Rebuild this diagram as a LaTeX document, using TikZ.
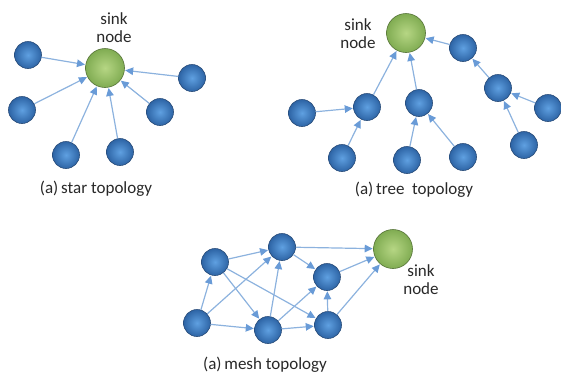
\documentclass[tikz,border=0pt]{standalone}
\usepackage{fontspec}
\setmainfont{Carlito}
\usetikzlibrary{arrows.meta}
\definecolor{linkblue}{RGB}{140,178,222}
\definecolor{tipblue}{RGB}{105,155,215}
\definecolor{nodein}{RGB}{95,160,225}
\definecolor{nodeout}{RGB}{45,100,165}
\definecolor{nodeedge}{RGB}{40,75,120}
\definecolor{sinkin}{RGB}{182,214,132}
\definecolor{sinkout}{RGB}{128,172,82}
\definecolor{sinkedge}{RGB}{85,115,55}
\definecolor{labelgray}{RGB}{40,40,40}
\tikzset{
  sensor/.style={circle, minimum size=27pt, inner sep=0pt, shading=radial,
    inner color=nodein, outer color=nodeout, draw=nodeedge, line width=0.6pt},
  sinknode/.style={circle, minimum size=39pt, inner sep=0pt, shading=radial,
    inner color=sinkin, outer color=sinkout, draw=sinkedge, line width=0.6pt},
  link/.style={draw=linkblue, line width=1.2pt,
    -{Triangle[length=8pt,width=7.5pt,color=tipblue]}, shorten >=0.5pt},
  caption/.style={font=\fontsize{17}{19}\selectfont, text=labelgray, inner sep=0pt},
  sinklabel/.style={font=\fontsize{17}{18}\selectfont, text=labelgray, inner sep=0pt,
    align=center}
}
\begin{document}
\begin{tikzpicture}[x=1pt, y=-1pt]
\useasboundingbox (0,0) rectangle (561,376);

% ---------- star topology ----------
\node[sinknode] (S0) at (105,68) {};
\node[sinklabel] (Slab) at (114,28) {sink\\node};
\node[sensor] (s1) at (28,55) {};
\node[sensor] (s2) at (22,110) {};
\node[sensor] (s3) at (66,155) {};
\node[sensor] (s4) at (120,152) {};
\node[sensor] (s5) at (160,112) {};
\node[sensor] (s6) at (192,78) {};
\foreach \n in {s1,s2,s3,s4,s5,s6} \draw[link] (\n) -- (S0);
\node[caption] (Scap) at (96,189) {(a)\,star topology};

% ---------- tree topology ----------
\node[sinknode] (T0) at (406,33) {};
\node[sinklabel] (Tlab) at (358,34) {sink\\node};
\node[sensor] (t1) at (463,48) {};
\node[sensor] (t2) at (498,88) {};
\node[sensor] (t3) at (548,108) {};
\node[sensor] (t4) at (524,145) {};
\node[sensor] (m1) at (419,103) {};
\node[sensor] (mc1) at (407,160) {};
\node[sensor] (mc2) at (463,157) {};
\node[sensor] (l1) at (367,107) {};
\node[sensor] (ll) at (302,113) {};
\node[sensor] (lc) at (342,158) {};
\draw[link] (t1) -- (T0);
\draw[link] (t2) -- (t1);
\draw[link] (t3) -- (t2);
\draw[link] (t4) -- (t2);
\draw[link] (m1) -- (T0);
\draw[link] (mc1) -- (m1);
\draw[link] (mc2) -- (m1);
\draw[link] (l1) -- (T0);
\draw[link] (ll) -- (l1);
\draw[link] (lc) -- (l1);
\node[caption] (Tcap) at (414,190) {(a)\,tree\ \ topology};

% ---------- mesh topology ----------
\node[sinknode] (M0) at (393,249) {};
\node[sinklabel] (Mlab) at (421,280) {sink\\node};
\node[sensor] (a) at (215,262) {};
\node[sensor] (b) at (282,247) {};
\node[sensor] (c) at (327,277) {};
\node[sensor] (d) at (197,323) {};
\node[sensor] (e) at (268,330) {};
\node[sensor] (f) at (328,325) {};
\draw[link] (a) -- (b);
\draw[link] (a) -- (e);
\draw[link] (a) -- (f);
\draw[link] (d) -- (a);
\draw[link] (d) -- (b);
\draw[link] (d) -- (e);
\draw[link] (e) -- (b);
\draw[link] (e) -- (c);
\draw[link] (e) -- (f);
\draw[link] (f) -- (c);
\draw[link] (b) -- (c);
\draw[link] (b) -- (M0);
\draw[link] (c) -- (M0);
\draw[link] (f) -- (M0);
\node[caption] (Mcap) at (265,365) {(a)\,mesh topology};
\end{tikzpicture}
\end{document}
